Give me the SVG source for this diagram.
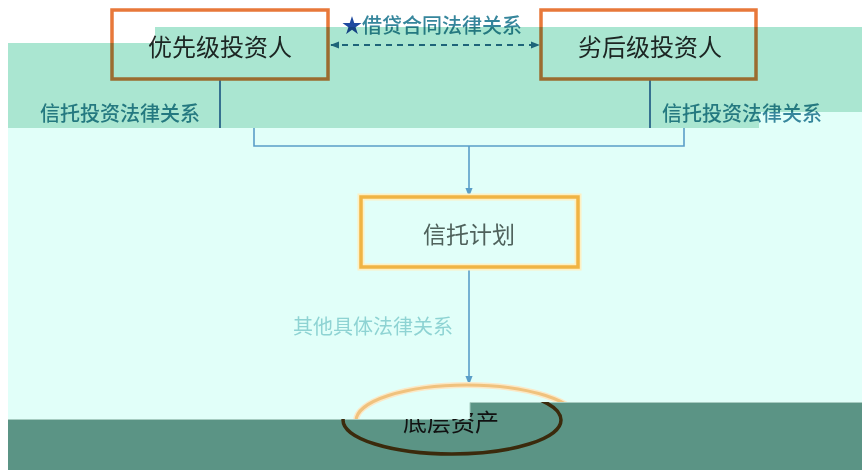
<svg xmlns="http://www.w3.org/2000/svg" width="862" height="470" viewBox="0 0 862 470">
<style>
.t{font-family:"Noto Sans CJK SC","Noto Sans",sans-serif}
.box{fill:none;stroke:#e8783a;stroke-width:3.5}
.lnk{fill:none;stroke:#5a9ec8;stroke-width:1.6}
.lnkd{fill:none;stroke:#3d6fa8;stroke-width:1.8}
.rel{font-size:20px;fill:#36869c;font-weight:500}
</style>
<defs>
<marker id="ab" viewBox="0 0 10 10" refX="9" refY="5" markerWidth="9" markerHeight="9" markerUnits="userSpaceOnUse" orient="auto"><path d="M0,1 L10,5 L0,9 z" fill="#5a9ec8"/></marker>
<marker id="ad" viewBox="0 0 10 10" refX="9" refY="5" markerWidth="9" markerHeight="9" markerUnits="userSpaceOnUse" orient="auto-start-reverse"><path d="M0,1 L10,5 L0,9 z" fill="#2d6f93"/></marker>
<clipPath id="darkclip"><polygon points="8,419 470,419 470,402 862,402 862,470 8,470"/></clipPath>
</defs>
<rect width="862" height="470" fill="#ffffff"/>
<polygon id="band-cyan" points="8,128 759,128 759,112 862,112 862,470 8,470" fill="#e1fff9"/>

<g id="connectors">
<line class="lnkd" x1="220" y1="80" x2="220" y2="128"/>
<line class="lnkd" x1="650" y1="80" x2="650" y2="128"/>
<polyline class="lnk" points="254,128 254,146 684,146 684,128"/>
<line class="lnk" x1="469" y1="146" x2="469" y2="196" marker-end="url(#ab)"/>
<line class="lnk" x1="469" y1="268" x2="469" y2="384" marker-end="url(#ab)"/>
<line x1="331" y1="45" x2="539" y2="45" stroke="#2d6f93" stroke-width="2" stroke-dasharray="6,5" marker-start="url(#ad)" marker-end="url(#ad)"/>
<text class="t rel" x="342" y="33"><tspan fill="#1e4aa0">★</tspan>借贷合同法律关系</text>
<text class="t rel" x="40" y="121">信托投资法律关系</text>
<text class="t rel" x="662" y="121">信托投资法律关系</text>
<text class="t" x="373" y="334" font-size="20" fill="#8ed3d3" text-anchor="middle">其他具体法律关系</text>
</g>

<g id="node-senior">
<rect class="box" x="112" y="10" width="216" height="69"/>
<text class="t" x="220" y="56" font-size="24" fill="#2a2a2a" text-anchor="middle">优先级投资人</text>
</g>
<g id="node-junior">
<rect class="box" x="541" y="10" width="215" height="69"/>
<text class="t" x="650" y="56" font-size="24" fill="#2a2a2a" text-anchor="middle">劣后级投资人</text>
</g>
<g id="node-trust">
<rect x="361" y="197" width="217" height="70" fill="none" stroke="#fdf0c4" stroke-width="7"/>
<rect x="361" y="197" width="217" height="70" fill="none" stroke="#f0b444" stroke-width="3.5"/>
<text class="t" x="469" y="243" font-size="23" fill="#4f625c" text-anchor="middle">信托计划</text>
</g>
<g id="node-asset-upper">
<ellipse cx="467" cy="421" rx="111" ry="36" fill="none" stroke="#fbe8c6" stroke-width="6"/>
<ellipse cx="467" cy="421" rx="111" ry="36" fill="none" stroke="#f0c27e" stroke-width="3"/>
</g>

<polygon id="band-green" points="8,43 155,43 155,27 862,27 862,112 759,112 759,128 8,128" fill="#aae6d1" style="mix-blend-mode:multiply"/>

<g id="band-dark">
<polygon points="8,419 470,419 470,402 862,402 862,470 8,470" fill="#5b9485"/>
<polyline points="8,419.5 470,419.5 470,402.5 862,402.5" fill="none" stroke="#a6ccc1" stroke-width="1"/>
</g>
<g id="node-asset" clip-path="url(#darkclip)">
<ellipse cx="452" cy="420" rx="109" ry="34" fill="none" stroke="#3b2a0c" stroke-width="3.5"/>
<text class="t" x="451" y="431" font-size="24" fill="#111111" text-anchor="middle">底层资产</text>
</g>
</svg>
